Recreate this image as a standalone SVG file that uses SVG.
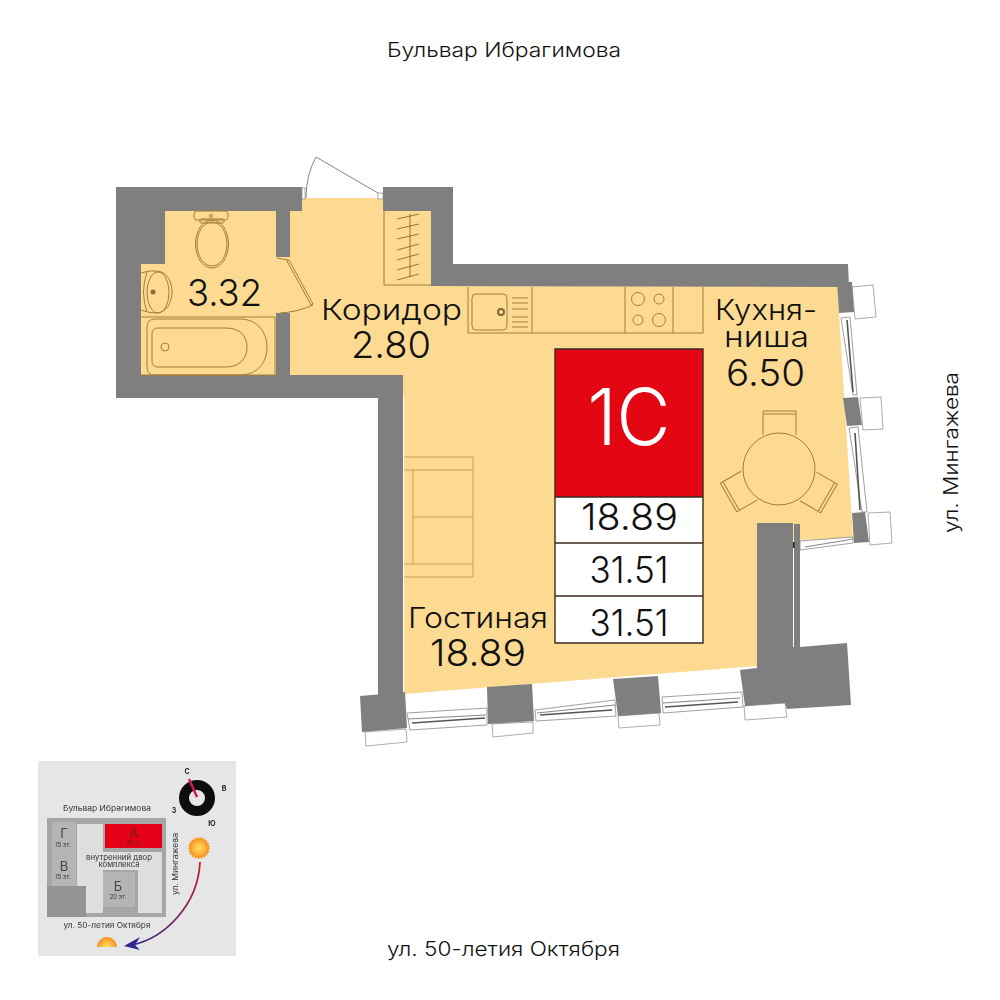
<svg xmlns="http://www.w3.org/2000/svg" width="1000" height="1000" viewBox="0 0 1000 1000">
<style>
text{font-family:"Inter","Liberation Sans",sans-serif;fill:#111;text-anchor:middle}
.w{fill:#7f7f7f}
.f{fill:none;stroke:#a37f35;stroke-width:1}
.so{fill:none;stroke:#c4a05a;stroke-width:1}
.b{fill:#fff;stroke:#888;stroke-width:.7}
.g{fill:#fff;stroke:#777;stroke-width:.7}
.n{fill:none;stroke:#666;stroke-width:.8}
.d{stroke:#555;stroke-width:1.6;fill:none}
.t{fill:none;stroke:#3a2a20;stroke-width:1.4}
.m{font-size:7.5px;fill:#333}
.s{font-size:6px;fill:#333}
.l{font-size:13px;fill:#444}
.c{font-size:7px;font-weight:700;fill:#222}
</style>
<defs>
<radialGradient id="sun"><stop offset="0" stop-color="#ffe05a"/><stop offset=".65" stop-color="#fbb03b"/><stop offset="1" stop-color="#f28a1e"/></radialGradient>
<linearGradient id="arc" gradientUnits="userSpaceOnUse" x1="200" y1="862" x2="130" y2="946"><stop offset="0" stop-color="#c8202f"/><stop offset="1" stop-color="#2e2a8c"/></linearGradient>
<clipPath id="half"><rect x="90" y="930" width="36" height="17"/></clipPath>
<filter id="soft" x="0" y="0" width="1" height="1"><feGaussianBlur stdDeviation="0.3"/></filter>
</defs>
<rect width="1000" height="1000" fill="#fff"/>

<g id="floor">
<polygon fill="#fdda92" points="141,264 165,264 165,205 290,205 290,198 384,198 384,205 431,205 431,280 837,280 853,538 800,540 757,540 757,666 404,694 404,395 290,380 141,380"/>
<polygon fill="#fff" points="290,376 403,376 403,400 290,400"/>
</g>

<g id="outer-fittings">
<polygon class="b" points="852,287 873,285 876,317 855,319"/>
<polygon class="b" points="860,398 881,397 883,429 863,430"/>
<polygon class="b" points="868,513 890,512 892,543 870,545"/>
<polygon class="b" points="365,732 406,729 407,742 366,746"/>
<polygon class="b" points="492,724 533,722 533,733 493,737"/>
<polygon class="b" points="618,716 659,713 660,725 619,728"/>
<polygon class="b" points="744,706 785,703 787,717 745,720"/>
</g>

<g id="windows">
<polygon class="g" points="841,318 850,317 857,395 853,395"/>
<polygon class="g" points="849,428 858,427 867,512 862,512"/>
<line class="d" x1="847" y1="320" x2="853" y2="392"/>
<line class="d" x1="855" y1="433" x2="860" y2="510"/>
<polygon class="g" points="407,713 487,708 487,725 410,730"/>
<polygon class="g" points="535,710 615,700 616,716 536,721"/>
<polygon class="g" points="662,697 742,692 743,707 663,713"/>
<path class="n" d="M408 719 L486 715 M537 713 L615 705 M663 703 L740 698"/>
<line class="d" x1="412" y1="723" x2="485" y2="718"/>
<line class="d" x1="540" y1="715" x2="612" y2="710"/>
<line class="d" x1="665" y1="707" x2="738" y2="702"/>
<polygon class="g" points="800,541 853,537 853,543 800,550"/>
<line class="n" x1="805" y1="547" x2="853" y2="539"/>
</g>

<g id="walls">
<polygon class="w" points="116,187 302,187 302,211 165,211 165,264 141,264 141,375 403,375 403,700 378,700 378,398 116,398"/>
<rect class="w" x="276" y="211" width="14" height="46"/>
<rect class="w" x="276" y="313" width="14" height="62"/>
<polygon class="w" points="383,187 453,187 453,264 848,264 849,287 431,286 431,211 383,211"/>
<polygon class="w" points="837,282 852,282 854,312 839,313"/>
<polygon class="w" points="843,398 858,397 862,425 847,426"/>
<polygon class="w" points="852,513 865,512 869,542 854,543"/>
<polygon class="w" points="360,696 405,692 407,728 362,732"/>
<polygon class="w" points="487,687 532,684 534,721 488,724"/>
<polygon class="w" points="613,679 658,676 661,713 618,716"/>
<polygon class="w" points="757,523 793,523 793,647 800,647 847,643 851,705 787,709 785,703 745,706 740,670 757,668"/>
<rect class="w" x="794" y="524" width="6" height="123"/>
<rect x="793" y="542" width="1.500" height="6" fill="#222"/>
</g>

<g id="entrance-door">
<rect class="b" x="302" y="188" width="3" height="11"/>
<rect class="b" x="378" y="193" width="5" height="6"/>
<path class="n" d="M316 157 L378 193 M316 157 Q306 175 306 198"/>
</g>

<g id="bathroom-door">
<path class="f" d="M287 261 L311 305 L313 304 L289 260 Z"/>
<path class="f" d="M313 305 Q298 312 280 313"/>
<line class="f" x1="277" y1="258" x2="288" y2="260"/>
</g>

<g id="closet">
<path class="f" d="M384 211 V285 H431"/>
<path fill="none" stroke="#7a6020" stroke-width=".8" d="M410 214 V277 M397 219 L419 214 M397 229 L419 224 M397 239 L419 234 M397 250 L419 244 M397 260 L419 254 M397 270 L419 264 M397 280 L419 274"/>
</g>

<g id="toilet">
<rect class="f" x="194" y="211" width="34" height="9" rx="3"/>
<rect class="f" x="200" y="219" width="24" height="4" rx="1"/>
<ellipse class="f" cx="212" cy="244" rx="16.500" ry="24"/>
<ellipse class="f" cx="212" cy="244" rx="15" ry="22"/>
<circle class="f" cx="211" cy="216" r="1.500"/>
</g>

<g id="washbasin">
<path class="f" d="M141 273 Q150 270 157 271 C168 272 172 283 172 292 C172 303 166 313 156 313 Q149 313 141 310"/>
<path class="f" d="M147 272 Q140 292 147 312"/>
<ellipse class="f" cx="158" cy="292.500" rx="11" ry="20.500"/>
<circle cx="153" cy="292" r="2.500" fill="#8a6f3a"/>
</g>

<g id="bath">
<path class="f" d="M141 317 H275 V375 H141"/>
<path class="f" d="M155 319 H240 C258 319 267 333 267 347 C267 362 258 375 240 375 H155 Q147 375 147 367 V327 Q147 319 155 319 Z"/>
<path class="f" d="M158 328 H226 C240 328 247 336 247 347 C247 358 240 367 226 367 H158 Q152 367 152 361 V334 Q152 328 158 328 Z"/>
<circle class="f" cx="165" cy="347" r="4"/>
</g>

<g id="kitchen">
<path class="f" d="M468 287 V333 H703 V287 M532 287 V333 M625 287 V333 M673 287 V333"/>
<rect class="f" x="472" y="294" width="35" height="36" rx="4"/>
<circle cx="501" cy="312" r="3" fill="none" stroke="#7a6a30" stroke-width="2"/>
<path class="f" d="M512 298 H528 M512 303 H528 M512 309 H528 M512 317 H528 M512 322 H528 M512 327 H528"/>
<circle class="f" cx="638" cy="299" r="6.500"/>
<circle class="f" cx="659" cy="299" r="5"/>
<circle class="f" cx="638" cy="320" r="5"/>
<circle class="f" cx="659" cy="320" r="6.500"/>
</g>

<g id="sofa">
<path class="so" d="M404 457 H473 V577 H404 M404 470 H473 M404 564 H473 M413 470 V564 M413 517 H473"/>
</g>

<g id="table">
<g id="chair-1"><path class="f" d="M763 435 V411 H796 V435 M763 414 H796"/></g>
<g id="chair-2" transform="rotate(-120 779 469)"><path class="f" d="M763 435 V411 H796 V435 M763 414 H796"/></g>
<g id="chair-3" transform="rotate(120 779 469)"><path class="f" d="M763 435 V411 H796 V435 M763 414 H796"/></g>
<circle class="f" cx="779" cy="469" r="36" style="fill:#fdda92"/>
</g>

<g id="badge">
<rect x="555" y="349" width="148" height="148" fill="#e30613"/>
<rect x="555" y="497" width="148" height="146" fill="#fff"/>
<path class="t" d="M555 349 H703 V643 H555 Z M555 497 H703 M555 543 H703 M555 596 H703"/>
<text x="629" y="445" font-size="78" textLength="83" lengthAdjust="spacingAndGlyphs" style="fill:#fff;font-weight:300">1С</text>
<text x="629.500" y="530" font-size="37" textLength="97" lengthAdjust="spacingAndGlyphs" style="font-weight:300">18.89</text>
<text x="629" y="583" font-size="37" textLength="79" lengthAdjust="spacingAndGlyphs" style="font-weight:300">31.51</text>
<text x="629" y="636" font-size="37" textLength="79" lengthAdjust="spacingAndGlyphs" style="font-weight:300">31.51</text>
</g>

<g id="labels" style="font-weight:300">
<text x="224.500" y="306" font-size="37" textLength="75" lengthAdjust="spacingAndGlyphs">3.32</text>
<text x="391.500" y="320" font-size="28" textLength="141" lengthAdjust="spacingAndGlyphs">Коридор</text>
<text x="391" y="358" font-size="37" textLength="80" lengthAdjust="spacingAndGlyphs">2.80</text>
<text x="766" y="320" font-size="28" textLength="102" lengthAdjust="spacingAndGlyphs">Кухня-</text>
<text x="766.500" y="347" font-size="28" textLength="85" lengthAdjust="spacingAndGlyphs">ниша</text>
<text x="765.500" y="386" font-size="37" textLength="79" lengthAdjust="spacingAndGlyphs">6.50</text>
<text x="478" y="628" font-size="28" textLength="140" lengthAdjust="spacingAndGlyphs">Гостиная</text>
<text x="478" y="666" font-size="37" textLength="96" lengthAdjust="spacingAndGlyphs">18.89</text>
</g>

<g id="streets" style="font-weight:300">
<text x="504" y="57" font-size="20" textLength="234" lengthAdjust="spacingAndGlyphs">Бульвар Ибрагимова</text>
<text x="503.500" y="956" font-size="20" textLength="233" lengthAdjust="spacingAndGlyphs">ул. 50-летия Октября</text>
<text transform="translate(958 452.500) rotate(-90)" font-size="20" textLength="161" lengthAdjust="spacingAndGlyphs">ул. Мингажева</text>
</g>

<g id="inset" filter="url(#soft)">
<rect x="38" y="761" width="198" height="195" fill="#e6e6e6"/>
<circle cx="197" cy="798" r="13" fill="none" stroke="#111" stroke-width="10"/>
<line x1="189" y1="779" x2="197" y2="797" stroke="#d4145a" stroke-width="2.500"/>
<text class="c" x="187" y="774">С</text>
<text class="c" x="224" y="791">В</text>
<text class="c" x="174" y="813">З</text>
<text class="c" x="212" y="826">Ю</text>
<rect x="47" y="818" width="119" height="99" fill="#a6a6a6"/>
<rect x="52" y="822" width="24" height="64" fill="#b5b5b5"/>
<rect x="47" y="886" width="39" height="31" fill="#949494"/>
<path fill="#dedede" d="M77 824 H103 V852 H162 V870 H103 V913 H86 V886 H77 Z"/>
<rect x="138" y="870" width="24" height="43" fill="#dedede"/>
<rect x="103" y="870" width="35" height="43" fill="#a6a6a6"/>
<rect x="103" y="872" width="32" height="35" fill="#b5b5b5"/>
<rect x="105" y="824" width="57" height="24" fill="#e30613"/>
<text class="m" x="107" y="811" textLength="88" lengthAdjust="spacingAndGlyphs">Бульвар Ибрагимова</text>
<text class="m" x="107" y="928" textLength="87" lengthAdjust="spacingAndGlyphs">ул. 50-летия Октября</text>
<text class="m" transform="translate(178 864) rotate(-90)" textLength="62" lengthAdjust="spacingAndGlyphs">ул. Мингажева</text>
<text class="m" x="119" y="859.500" textLength="66" lengthAdjust="spacingAndGlyphs">внутренний двор</text>
<text class="m" x="119" y="867" textLength="41" lengthAdjust="spacingAndGlyphs">комплекса</text>
<text class="l" x="64" y="838">Г</text>
<text class="s" x="63" y="847">15 эт.</text>
<text class="l" x="64" y="871">В</text>
<text class="s" x="63" y="879">15 эт.</text>
<text class="l" x="134" y="838" style="fill:#7a1a1a">А</text>
<text class="s" x="133" y="845" style="fill:#7a1a1a">32 эт</text>
<text class="l" x="118" y="891">Б</text>
<text class="s" x="118" y="899">20 эт.</text>
<circle cx="199" cy="848" r="10" fill="url(#sun)" stroke="#f5a623" stroke-width="2" stroke-dasharray="1.500 1.500"/>
<circle cx="107" cy="947" r="10" fill="url(#sun)" clip-path="url(#half)"/>
<path d="M200 862 C198 905 165 938 132 945" fill="none" stroke="url(#arc)" stroke-width="1.800"/>
<polygon points="124,946 140,937 135,945 140,950" fill="#2e2a8c"/>
</g>
</svg>
